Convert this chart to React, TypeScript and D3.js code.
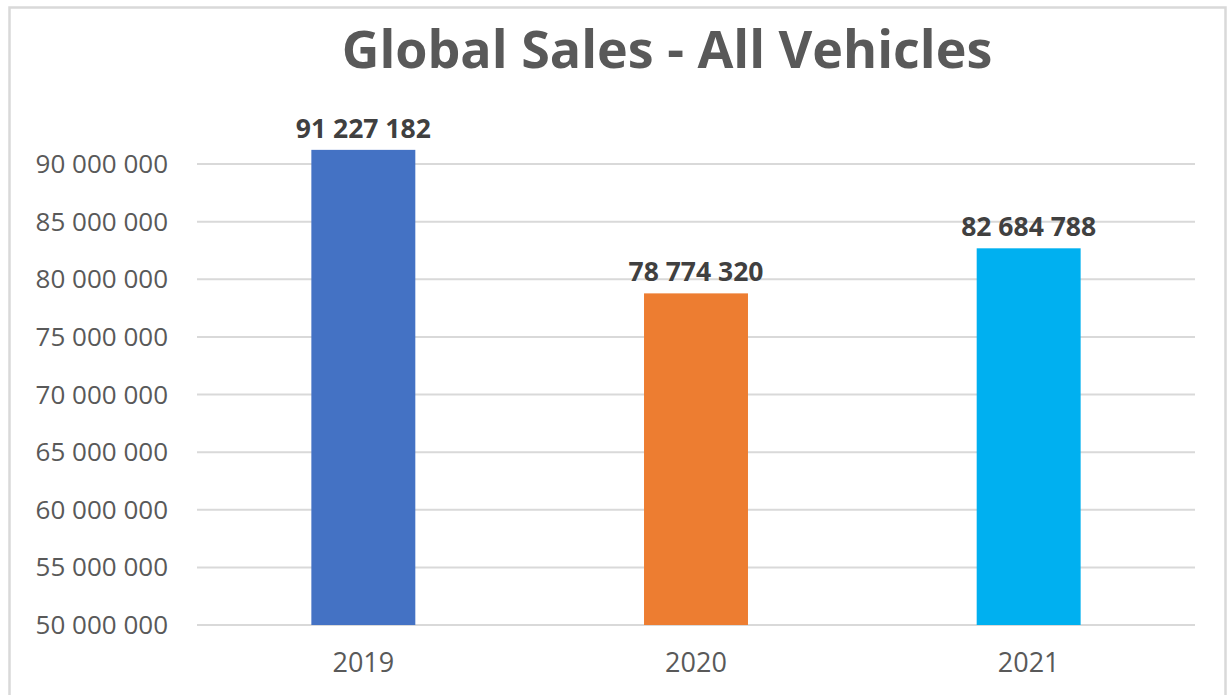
import React from "react";
import * as d3 from "d3";

const categories = ["2019", "2020", "2021"];
const sales = [91227182, 78774320, 82684788];
const colors = ["#4472C4", "#ED7D31", "#00B0F0"];
const yTicks = [50000000, 55000000, 60000000, 65000000, 70000000, 75000000, 80000000, 85000000, 90000000];
const title = "Global Sales - All Vehicles";

const W = 1231;
const H = 695;
const plotLeft = 197;
const plotRight = 1195;
const yTop = 164;
const yBottom = 625;

const fmt = (v: number) => d3.format(",")(v).replace(/,/g, " ");

export default function App() {
  const x = d3.scaleBand<string>().domain(categories).range([plotLeft, plotRight]).paddingInner(0.6875).paddingOuter(0.34375);
  const y = d3.scaleLinear().domain([50000000, 90000000]).range([yBottom, yTop]);
  const font = "'Open Sans', sans-serif";
  return (
    <svg width={W} height={H} style={{ position: "absolute", left: 0, top: 0, background: "#fff" }}>
      <rect x={0} y={0} width={W} height={H} fill="#fff" />
      <rect x={9.5} y={7.5} width={1216} height={700} fill="#fff" stroke="#d9d9d9" strokeWidth={2.5} />
      <text x={667} y={68} textAnchor="middle" fontFamily={font} fontWeight={700} fontSize={52} fill="#595959">{title}</text>
      {yTicks.map((t) => (
        <g key={t}>
          <line x1={plotLeft} x2={plotRight} y1={y(t)} y2={y(t)} stroke="#d9d9d9" strokeWidth={2} />
          <text x={168} y={y(t)} dy="0.35em" textAnchor="end" fontFamily={font} fontSize={26} fill="#595959">{fmt(t)}</text>
        </g>
      ))}
      {categories.map((c, i) => (
        <g key={c}>
          <rect x={x(c)} y={y(sales[i])} width={x.bandwidth()} height={yBottom - y(sales[i])} fill={colors[i]} />
          <text x={(x(c) as number) + x.bandwidth() / 2} y={y(sales[i]) - 12} textAnchor="middle" fontFamily={font} fontWeight={700} fontSize={26.5} fill="#404040">{fmt(sales[i])}</text>
          <text x={(x(c) as number) + x.bandwidth() / 2} y={672} textAnchor="middle" fontFamily={font} fontSize={27} fill="#595959">{c}</text>
        </g>
      ))}
    </svg>
  );
}
